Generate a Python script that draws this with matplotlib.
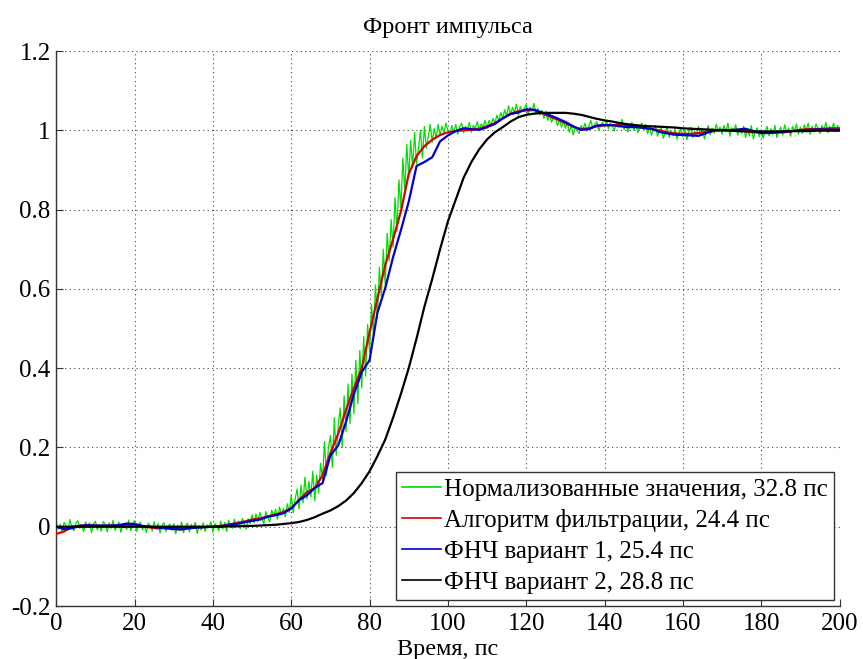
import numpy as np
import matplotlib
matplotlib.use("Agg")
import matplotlib.pyplot as plt

plt.rcParams['font.family'] = ['Liberation Serif', 'DejaVu Serif']

# time grids (ps)
t_smooth = np.arange(0, 201, 2)
t_raw = np.arange(0, 200.25, 0.5)

raw_values = [
    0.010, -0.006, 0.006, -0.013, 0.011, 0.004, -0.009, 0.018, -0.001, -0.010, 0.009, 0.015, -0.004, 0.003, -0.012, 0.012, 0.000, 0.010, -0.015, 0.007,
    0.014, -0.008, 0.004, -0.011, 0.013, 0.006, -0.013, 0.010, -0.004, 0.016, -0.009, 0.002, 0.012, -0.014, 0.008, 0.001, -0.007, 0.017, -0.010, 0.005,
    0.015, -0.012, 0.006, 0.011, -0.008, 0.003, -0.015, 0.009, 0.002, -0.011, 0.013, -0.006, 0.008, -0.016, 0.004, 0.010, -0.012, 0.001, 0.007, -0.009,
    0.008, -0.018, 0.004, -0.010, 0.012, -0.015, 0.002, 0.009, -0.013, 0.006, -0.004, 0.011, -0.017, 0.003, -0.008, 0.010, -0.012, 0.005, -0.002, 0.012,
    -0.014, 0.008, 0.002, -0.010, 0.014, -0.006, 0.011, -0.012, 0.016, 0.003, -0.004, 0.019, 0.000, 0.014, -0.005, 0.021, 0.006, -0.006, 0.020, 0.008,
    0.030, 0.010, 0.032, 0.014, 0.036, 0.020, 0.008, 0.038, 0.024, 0.012, 0.042, 0.027, 0.044, 0.019, 0.050, 0.030, 0.046, 0.025, 0.058, 0.036,
    0.080, 0.035, 0.070, 0.095, 0.045, 0.105, 0.060, 0.125, 0.070, 0.115, 0.075, 0.140, 0.065, 0.130, 0.085, 0.160, 0.120, 0.215, 0.130, 0.200,
    0.230, 0.150, 0.275, 0.180, 0.255, 0.300, 0.200, 0.330, 0.240, 0.360, 0.260, 0.385, 0.285, 0.420, 0.310, 0.445, 0.350, 0.480, 0.380, 0.510,
    0.440, 0.560, 0.480, 0.610, 0.525, 0.655, 0.580, 0.700, 0.610, 0.740, 0.670, 0.775, 0.705, 0.830, 0.745, 0.875, 0.805, 0.930, 0.845, 0.965,
    0.880, 0.975, 0.905, 0.995, 0.915, 0.955, 1.000, 0.930, 1.010, 0.955, 0.985, 1.015, 0.970, 1.005, 0.980, 1.015, 0.988, 1.010, 0.993, 1.018,
    1.000, 0.988, 1.012, 0.995, 1.015, 0.990, 1.008, 1.018, 0.994, 1.010, 1.002, 1.020, 0.995, 1.012, 1.004, 1.022, 1.000, 1.016, 1.008, 1.025,
    1.005, 1.025, 1.012, 1.030, 1.018, 1.038, 1.022, 1.045, 1.030, 1.052, 1.035, 1.062, 1.040, 1.058, 1.045, 1.066, 1.038, 1.060, 1.048, 1.055,
    1.065, 1.042, 1.058, 1.050, 1.068, 1.040, 1.055, 1.038, 1.050, 1.030, 1.048, 1.025, 1.040, 1.020, 1.035, 1.030, 1.012, 1.028, 1.008, 1.025,
    1.005, 1.020, 0.995, 1.012, 0.988, 1.008, 1.000, 0.992, 1.012, 1.003, 1.018, 0.998, 1.010, 1.025, 1.005, 1.015, 1.022, 1.000, 1.012, 1.020,
    1.008, 1.025, 1.004, 1.018, 1.010, 0.998, 1.022, 1.008, 1.015, 1.028, 1.002, 1.016, 0.996, 1.012, 1.020, 1.000, 1.014, 0.994, 1.010, 1.018,
    1.000, 1.015, 0.992, 1.008, 0.988, 1.004, 1.012, 0.985, 0.998, 1.006, 0.980, 0.995, 1.008, 0.982, 0.998, 0.986, 1.004, 0.978, 0.994, 1.002,
    0.984, 1.000, 0.976, 0.995, 1.008, 0.982, 0.998, 0.988, 1.010, 0.990, 1.004, 0.978, 0.996, 1.012, 0.988, 1.005, 0.993, 1.015, 0.998, 1.008,
    0.990, 1.012, 0.996, 1.018, 0.985, 1.006, 0.998, 1.014, 0.988, 1.004, 0.992, 1.010, 0.982, 1.000, 0.986, 1.012, 0.978, 0.998, 1.006, 0.984,
    1.002, 0.980, 0.996, 1.010, 0.986, 1.004, 0.990, 1.012, 0.982, 0.998, 1.008, 0.988, 1.014, 0.994, 1.006, 0.985, 1.010, 0.996, 1.016, 0.990,
    1.008, 0.992, 1.014, 1.000, 1.018, 0.990, 1.010, 0.996, 1.016, 1.004, 0.992, 1.012, 1.000, 1.020, 0.994, 1.010, 1.002, 1.018, 0.996, 1.012,
    1.004,
]

filter_values = [
    -0.018, -0.012, 0.000, 0.003, 0.004, 0.003, 0.002, 0.003, 0.004, 0.005,
    0.004, 0.001, -0.002, -0.004, -0.003, -0.004, -0.005, -0.003, -0.002, -0.001,
    0.000, 0.002, 0.006, 0.009, 0.013, 0.018, 0.021, 0.026, 0.031, 0.037,
    0.047, 0.068, 0.087, 0.097, 0.130, 0.186, 0.235, 0.295, 0.350, 0.400,
    0.490, 0.575, 0.660, 0.725, 0.795, 0.890, 0.935, 0.960, 0.976, 0.988,
    0.995, 0.998, 1.000, 1.001, 1.004, 1.010, 1.018, 1.030, 1.042, 1.048,
    1.050, 1.051, 1.043, 1.035, 1.027, 1.018, 1.009, 1.003, 1.005, 1.010,
    1.013, 1.013, 1.013, 1.011, 1.009, 1.006, 1.003, 1.000, 0.995, 0.992,
    0.991, 0.991, 0.993, 0.996, 0.998, 1.000, 1.001, 1.001, 0.998, 0.995,
    0.994, 0.994, 0.994, 0.995, 0.998, 1.001, 1.003, 1.003, 1.004, 1.005,
    1.005,
]

lpf1_values = [
    0.000, -0.006, -0.004, 0.002, 0.004, 0.003, 0.003, 0.003, 0.004, 0.008,
    0.007, 0.002, 0.000, -0.002, -0.004, -0.006, -0.007, -0.004, -0.002, -0.001,
    0.000, 0.001, 0.004, 0.007, 0.011, 0.015, 0.018, 0.025, 0.029, 0.034,
    0.046, 0.067, 0.079, 0.098, 0.110, 0.180, 0.205, 0.265, 0.335, 0.390,
    0.420, 0.540, 0.602, 0.680, 0.748, 0.820, 0.910, 0.920, 0.932, 0.972,
    0.987, 0.998, 1.005, 1.003, 1.001, 1.008, 1.016, 1.030, 1.041, 1.045,
    1.053, 1.052, 1.045, 1.038, 1.030, 1.021, 1.010, 1.001, 1.003, 1.012,
    1.013, 1.013, 1.010, 1.008, 1.008, 1.006, 1.004, 0.996, 0.992, 0.989,
    0.988, 0.987, 0.986, 0.993, 1.000, 1.001, 1.000, 1.002, 1.004, 0.998,
    0.993, 0.993, 0.995, 0.997, 0.998, 1.000, 1.001, 1.002, 1.002, 1.002,
    1.001,
]

lpf2_values = [
    0.000, 0.000, 0.000, 0.000, 0.000, 0.000, 0.000, 0.000, 0.000, 0.000,
    0.000, 0.000, 0.000, 0.000, 0.000, 0.000, 0.000, 0.000, 0.000, 0.000,
    0.000, 0.000, 0.001, 0.001, 0.002, 0.002, 0.003, 0.004, 0.005, 0.007,
    0.009, 0.012, 0.017, 0.024, 0.033, 0.041, 0.052, 0.066, 0.085, 0.110,
    0.140, 0.178, 0.220, 0.275, 0.335, 0.400, 0.475, 0.555, 0.625, 0.700,
    0.770, 0.825, 0.880, 0.920, 0.952, 0.977, 0.995, 1.008, 1.022, 1.033,
    1.039, 1.042, 1.044, 1.044, 1.044, 1.044, 1.042, 1.039, 1.034, 1.029,
    1.025, 1.022, 1.018, 1.015, 1.013, 1.011, 1.010, 1.009, 1.008, 1.007,
    1.005, 1.004, 1.003, 1.002, 1.001, 1.000, 0.999, 0.998, 0.997, 0.997,
    0.997, 0.997, 0.997, 0.997, 0.998, 0.998, 0.998, 0.999, 0.999, 0.999,
    0.999,
]

labels = [
    "Нормализованные значения, 32.8 пс",
    "Алгоритм фильтрации, 24.4 пс",
    "ФНЧ вариант 1, 25.4 пс",
    "ФНЧ вариант 2, 28.8 пс",
]
x_ticks = [0, 20, 40, 60, 80, 100, 120, 140, 160, 180, 200]
y_ticks = [-0.2, 0, 0.2, 0.4, 0.6, 0.8, 1, 1.2]
y_tick_labels = ["-0.2", "0", "0.2", "0.4", "0.6", "0.8", "1", "1.2"]

fig = plt.figure(figsize=(8.63, 6.59), dpi=100)
ax = fig.add_axes([0.0652, 0.0804, 0.9076, 0.8422])

ax.plot(t_raw, raw_values, color='#00dd00', lw=0.9, label=labels[0], zorder=2)
ax.plot(t_smooth, filter_values, color='#dd0000', lw=1.6, label=labels[1], zorder=3)
ax.plot(t_smooth, lpf1_values, color='#0000cc', lw=1.6, label=labels[2], zorder=4)
ax.plot(t_smooth, lpf2_values, color='black', lw=1.6, label=labels[3], zorder=5)

ax.set_xlim(0, 200)
ax.set_ylim(-0.2, 1.2)
ax.set_xticks(x_ticks)
ax.set_yticks(y_ticks)
ax.set_yticklabels(y_tick_labels)
ax.grid(True, linestyle=(0, (1, 3)), color='#444444', lw=0.8)
ax.set_axisbelow(True)
for s in ['top', 'right']:
    ax.spines[s].set_visible(False)
for s in ['left', 'bottom']:
    ax.spines[s].set_color('#333333')
    ax.spines[s].set_linewidth(1.0)
ax.tick_params(direction='in', length=5, labelsize=18, colors='#333333', labelcolor='black')
ax.tick_params(axis='x', pad=5)
ax.tick_params(axis='y', pad=4)

ax.set_title("Фронт импульса", fontsize=17.5, pad=13)
ax.set_xlabel("Время, пс", fontsize=17.5, labelpad=3)

leg = ax.legend(loc='lower right', bbox_to_anchor=(0.993, 0.011), fontsize=18,
                frameon=True, fancybox=False, edgecolor='#333333', framealpha=1,
                handlelength=1.55, handletextpad=0.12, borderpad=0.25, labelspacing=0.33,
                borderaxespad=0)
leg.get_frame().set_linewidth(1.0)
for line in leg.get_lines():
    line.set_linewidth(1.2)

fig.savefig("out.png", dpi=100)
